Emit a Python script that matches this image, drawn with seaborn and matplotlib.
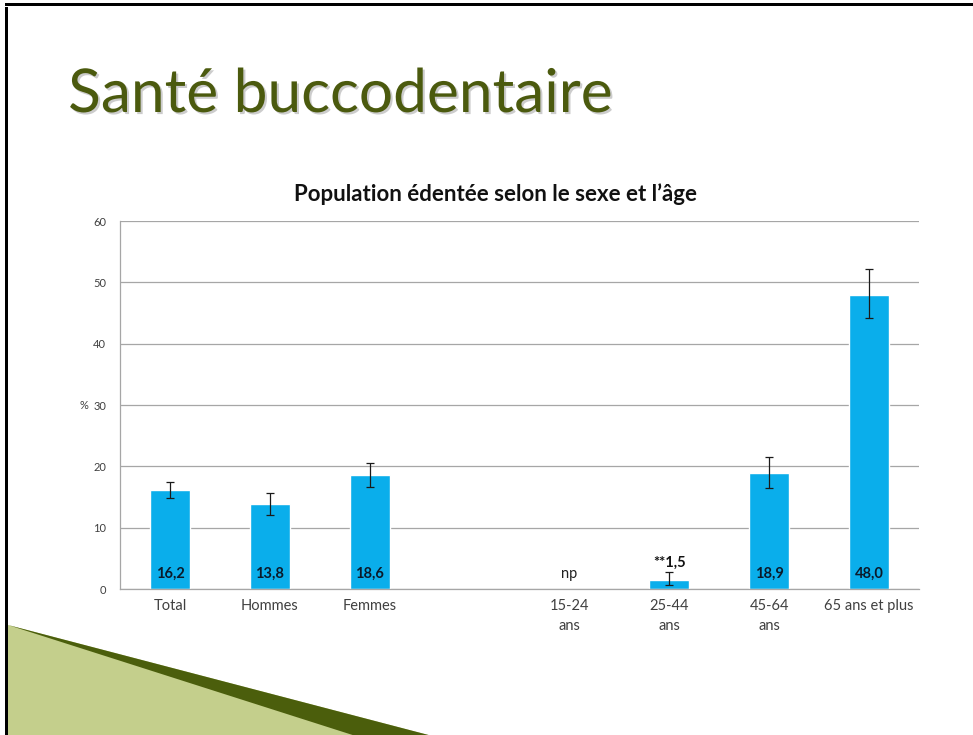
import matplotlib
matplotlib.use("Agg")
import matplotlib.pyplot as plt
import matplotlib.patheffects as pe
from matplotlib.patches import Polygon, Rectangle
import seaborn as sns
import pandas as pd
import numpy as np

# Data
categories = ["Total", "Hommes", "Femmes", "", "15-24\nans", "25-44\nans", "45-64\nans", "65 ans et plus"]
values = [16.2, 13.8, 18.6, np.nan, np.nan, 1.5, 18.9, 48.0]
err_low = [1.3, 1.8, 1.9, np.nan, np.nan, 0.9, 2.4, 3.8]
err_high = [1.3, 1.8, 1.9, np.nan, np.nan, 1.2, 2.6, 4.2]
value_labels = ["16,2", "13,8", "18,6", "", "np", "**1,5", "18,9", "48,0"]

BLUE = "#0AAEEB"
GRID = "#a6a6a6"
TEXT = "#404040"
OLIVE = "#4B5A0E"

sns.set_style("white")
plt.rcParams["font.family"] = ["Lato", "DejaVu Sans"]

df = pd.DataFrame({"cat": categories, "val": values})

fig = plt.figure(figsize=(9.73, 7.35), dpi=100)
ax = fig.add_axes([0.1233, 0.1986, 0.8212, 0.5007])

sns.barplot(data=df, x="cat", y="val", order=categories, color=BLUE,
            width=0.4, saturation=1, ax=ax, errorbar=None)

xs = np.arange(len(categories))
mask = ~np.isnan(values)
ax.errorbar(xs[mask], np.array(values)[mask],
            yerr=[np.array(err_low)[mask], np.array(err_high)[mask]],
            fmt="none", ecolor="#1a1a1a", elinewidth=0.9, capsize=3, capthick=0.9)

# labels at the bottom of bars
for i, lab in enumerate(value_labels):
    if not lab:
        continue
    if lab == "np":
        ax.text(i, 2.5, lab, ha="center", va="center", fontsize=10.5, color="#222222")
    elif lab.startswith("**"):
        ax.text(i, 4.3, lab, ha="center", va="center", fontsize=10.5,
                fontweight="bold", color="#111111")
    else:
        ax.text(i, 2.5, lab, ha="center", va="center", fontsize=10.5,
                fontweight="bold", color="#0b1a2a")

ax.set_ylim(0, 60)
ax.set_xlim(-0.5, len(categories) - 0.5)
ax.set_yticks(range(0, 61, 10))
ax.yaxis.grid(True, color=GRID, linewidth=0.9)
ax.set_axisbelow(True)
ax.set_xlabel("")
ax.set_ylabel("")

for s in ["top", "right"]:
    ax.spines[s].set_visible(False)
for s in ["left", "bottom"]:
    ax.spines[s].set_color(GRID)
    ax.spines[s].set_linewidth(0.9)

ax.set_xticks(xs)
ax.set_xticklabels(categories, fontsize=10.5, color=TEXT, linespacing=1.6)
ax.set_xticks(np.arange(-0.5, len(categories)), minor=True)
ax.tick_params(axis="x", which="major", length=0, pad=7)
ax.tick_params(axis="x", which="minor", length=4, color=GRID, direction="out")
ax.tick_params(axis="y", length=4, color=GRID, labelsize=8, labelcolor=TEXT, pad=6)

ax.text(-0.039, 30, "%", transform=ax.get_yaxis_transform(), ha="right",
        va="center", fontsize=8, color=TEXT)

fig.text(0.509, 0.736, "Population édentée selon le sexe et l’âge", ha="center",
         va="center", fontsize=16, fontweight="bold", color="#111111")

fig.text(0.070, 0.8476, "Santé buccodentaire", ha="left", va="baseline",
         fontsize=43.5, color=OLIVE,
         path_effects=[pe.withSimplePatchShadow(offset=(1.5, -1.5), shadow_rgbFace="#9a9a9a", alpha=0.5)])

# decorative slide shapes
W, H = 973, 735
def fx(p):
    return [(x / W, 1 - y / H) for x, y in p]

fig.patches.append(Polygon(fx([(8, 625), (440, 738), (8, 738)]), closed=True,
                           transform=fig.transFigure, facecolor="#C4CF8C", edgecolor="none"))
fig.patches.append(Polygon(fx([(8, 625), (440, 738), (362, 738), (30, 632)]), closed=True,
                           transform=fig.transFigure, facecolor="#4B5E0C", edgecolor="none"))
fig.patches.append(Rectangle((0.0055, -0.01), 0.003, 1.0, transform=fig.transFigure,
                             facecolor="black", edgecolor="none"))
fig.patches.append(Rectangle((0.0055, 0.9915), 1.0, 0.0045, transform=fig.transFigure,
                             facecolor="black", edgecolor="none"))

fig.savefig("out.png", dpi=100)
